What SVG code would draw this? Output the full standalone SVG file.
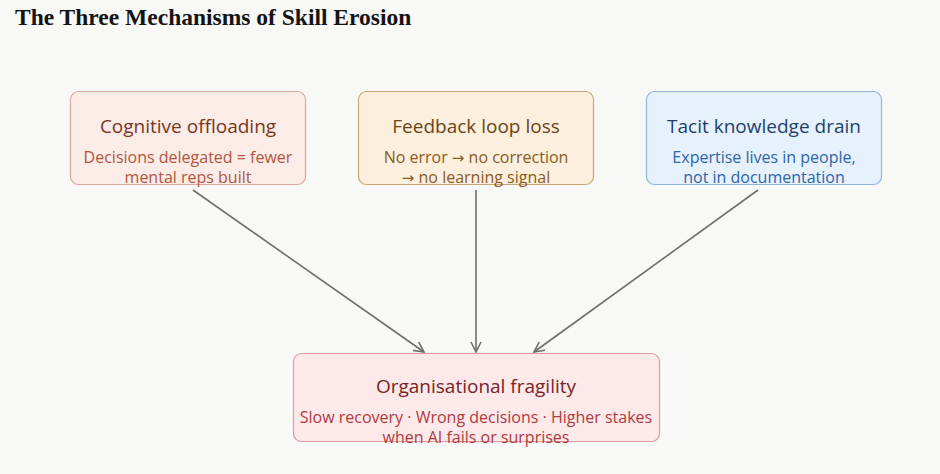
<svg xmlns="http://www.w3.org/2000/svg" width="940" height="474" viewBox="0 0 940 474">
<style>
.title{font-family:"Liberation Serif","DejaVu Serif",serif;font-weight:bold;font-size:23.5px;fill:#141414}
.h{font-family:"Open Sans","Noto Sans",sans-serif;font-size:19px;font-weight:500;text-anchor:middle}
.s{font-family:"Open Sans","Noto Sans",sans-serif;font-size:16px;text-anchor:middle}
.ar{font-family:"DejaVu Sans",sans-serif;font-size:15px}
.conn line{stroke:#6e6e6a;stroke-width:1.6;fill:none}
</style>
<defs>
<marker id="arr" viewBox="0 0 12 12" refX="11" refY="6" markerWidth="12" markerHeight="12" markerUnits="userSpaceOnUse" orient="auto">
<path d="M1,1 L11,6 L1,11" fill="none" stroke="#6e6e6a" stroke-width="1.6"/>
</marker>
</defs>
<rect width="940" height="474" fill="#f8f8f6"/>
<text class="title" x="15" y="25">The Three Mechanisms of Skill Erosion</text>
<g class="conn">
<line x1="193" y1="190" x2="424" y2="352" marker-end="url(#arr)"/>
<line x1="476" y1="190" x2="476" y2="352" marker-end="url(#arr)"/>
<line x1="758" y1="190" x2="534" y2="352" marker-end="url(#arr)"/>
</g>
<g id="cognitive">
<rect x="70.5" y="91.5" width="235" height="93" rx="8" fill="#fbece8" stroke="#dca89c" stroke-width="1.2"/>
<text class="h" x="188" y="133" fill="#7a3420">Cognitive offloading</text>
<text class="s" x="188" y="163" fill="#b4553c">Decisions delegated = fewer</text>
<text class="s" x="188" y="183" fill="#b4553c">mental reps built</text>
</g>
<g id="feedback">
<rect x="358.5" y="91.5" width="235" height="93" rx="8" fill="#fcefdd" stroke="#cba676" stroke-width="1.2"/>
<text class="h" x="476" y="133" fill="#6a4416">Feedback loop loss</text>
<text class="s" x="476" y="163" fill="#8a5b1e">No error <tspan class="ar">→</tspan> no correction</text>
<text class="s" x="476" y="183" fill="#8a5b1e"><tspan class="ar">→</tspan> no learning signal</text>
</g>
<g id="tacit">
<rect x="646.5" y="91.5" width="235" height="93" rx="8" fill="#e7f1fc" stroke="#8fb6de" stroke-width="1.2"/>
<text class="h" x="764" y="133" fill="#1d3f6c">Tacit knowledge drain</text>
<text class="s" x="764" y="163" fill="#2b66a8">Expertise lives in people,</text>
<text class="s" x="764" y="183" fill="#2b66a8">not in documentation</text>
</g>
<g id="fragility">
<rect x="293.5" y="353.5" width="366" height="88" rx="8" fill="#fde9ea" stroke="#dc9ca0" stroke-width="1.2"/>
<text class="h" x="476" y="393" fill="#7a2224">Organisational fragility</text>
<text class="s" x="476" y="423" fill="#b03a3e">Slow recovery · Wrong decisions · Higher stakes</text>
<text class="s" x="476" y="443" fill="#b03a3e">when AI fails or surprises</text>
</g>
</svg>
